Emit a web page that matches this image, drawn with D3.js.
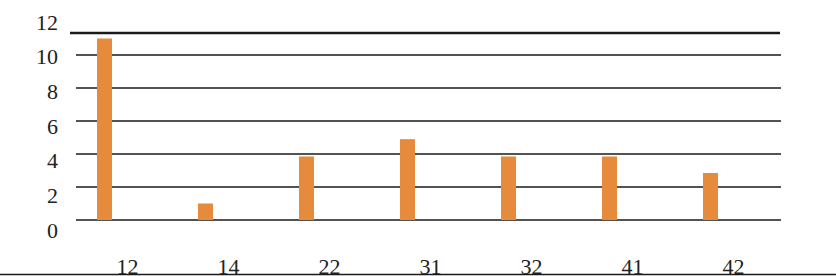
<!DOCTYPE html>
<html><head><meta charset="utf-8">
<script src="https://cdn.jsdelivr.net/npm/d3@7"></script>
<style>body{margin:0;background:#fff}svg{display:block}</style>
</head><body>
<script>
const categories = ["12","14","22","31","32","41","42"];
const values = [11, 1, 3.85, 4.9, 3.85, 3.85, 2.85];
const yTicks = [0,2,4,6,8,10];
const yLabels = [0,2,4,6,8,10,12];

const W = 836, H = 276;
const svg = d3.select("body").append("svg").attr("width", W).attr("height", H);

const x = d3.scaleBand().domain(categories).range([76, 783]);
const y = d3.scaleLinear().domain([0, 10]).range([220, 55]);
const yLab = d3.scaleLinear().domain([0, 12]).range([230, 22]);

// top thick rule
svg.append("line").attr("x1", 70).attr("x2", 780).attr("y1", 33).attr("y2", 33)
  .attr("stroke", "#1a1a1a").attr("stroke-width", 2.4);
// bottom rule
svg.append("line").attr("x1", 0).attr("x2", W).attr("y1", 274.5).attr("y2", 274.5)
  .attr("stroke", "#1a1a1a").attr("stroke-width", 1.5);

// gridlines
svg.append("g").selectAll("line").data(yTicks).join("line")
  .attr("x1", 76).attr("x2", 781)
  .attr("y1", d => y(d)).attr("y2", d => y(d))
  .attr("stroke", "#1a1a1a").attr("stroke-width", 1.3);

// bars
const bw = 15;
svg.append("g").selectAll("rect").data(values).join("rect")
  .attr("x", (d, i) => x(categories[i]) + x.bandwidth() / 2 - 22 - bw / 2)
  .attr("y", d => y(d))
  .attr("width", bw)
  .attr("height", d => y(0) - y(d))
  .attr("fill", "#e68a3b");

// y labels
svg.append("g").selectAll("text").data(yLabels).join("text")
  .attr("x", 58).attr("y", d => yLab(d))
  .attr("text-anchor", "end").attr("dominant-baseline", "central")
  .attr("font-family", "Liberation Serif, serif").attr("font-size", 22)
  .attr("fill", "#222").text(d => d);

// x labels
svg.append("g").selectAll("text").data(categories).join("text")
  .attr("x", d => x(d) + x.bandwidth() / 2 + 1).attr("y", 274)
  .attr("text-anchor", "middle")
  .attr("font-family", "Liberation Serif, serif").attr("font-size", 22)
  .attr("fill", "#222").text(d => d);
</script>
</body></html>
